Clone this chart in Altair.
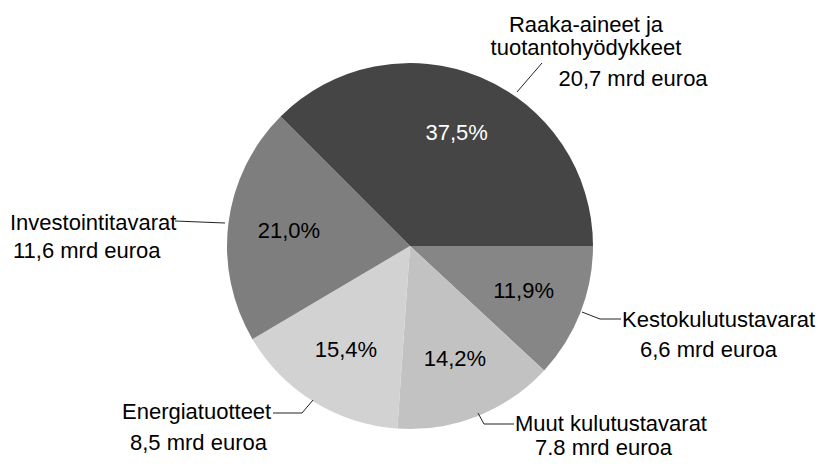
import math
import altair as alt
import pandas as pd

# ---- data ----
categories = ["Kestokulutustavarat", "Muut kulutustavarat", "Energiatuotteet",
              "Investointitavarat", "Raaka-aineet ja tuotantohyödykkeet"]
shares = [11.9, 14.2, 15.4, 21.0, 37.5]
value_labels = ["6,6 mrd euroa", "7.8 mrd euroa", "8,5 mrd euroa",
                "11,6 mrd euroa", "20,7 mrd euroa"]
name_lines = [["Kestokulutustavarat"], ["Muut kulutustavarat"], ["Energiatuotteet"],
              ["Investointitavarat"], ["Raaka-aineet ja", "tuotantohyödykkeet"]]

# ---- styles / layout ----
FONT = "Liberation Sans"
M = 8  # page margin
fills = ["#868686", "#c2c2c2", "#d2d2d2", "#7e7e7e", "#454545"]
pct_colors = ["black", "black", "black", "black", "white"]
CX, CY, R = 410 - M, 246 - M, 183

pie_df = pd.DataFrame({
    "cat": categories,
    "share": shares,
    "ord": list(range(len(categories))),
    "pct": [f"{v:.1f}".replace(".", ",") + "%" for v in shares],
    "tcol": pct_colors,
})

theta = alt.Theta("share:Q", stack=True,
                  scale=alt.Scale(range=[math.pi / 2, math.pi / 2 + 2 * math.pi]))

arcs = alt.Chart(pie_df).mark_arc(radius=R, strokeWidth=0).encode(
    theta=theta,
    order=alt.Order("ord:Q"),
    color=alt.Color("cat:N", scale=alt.Scale(domain=categories, range=fills), legend=None),
    x=alt.value(CX), y=alt.value(CY),
)

pct_text = alt.Chart(pie_df).mark_text(radius=122, font=FONT, fontSize=22,
                                       align="center", baseline="middle").encode(
    theta=theta,
    order=alt.Order("ord:Q"),
    text="pct:N",
    color=alt.Color("tcol:N", scale=None),
    x=alt.value(CX), y=alt.value(CY),
)

# outside label placement (page px): (x, baseline y, align) per line
label_pos = {
    "Kestokulutustavarat": [(622, 327, "left"), (640, 357, "left")],
    "Muut kulutustavarat": [(515, 431, "left"), (535, 455, "left")],
    "Energiatuotteet": [(122, 419, "left"), (130, 450, "left")],
    "Investointitavarat": [(10, 230, "left"), (13, 258, "left")],
    "Raaka-aineet ja tuotantohyödykkeet": [(586, 32, "center"), (586, 55, "center"),
                                           (633, 86, "center")],
}
rows = []
for cat, names, val in zip(categories, name_lines, value_labels):
    lines = names + [val]
    for (px, py, al), t in zip(label_pos[cat], lines):
        rows.append({"t": t, "x": px - M, "y": py - M, "al": al})
lab_df = pd.DataFrame(rows)

def label_layer(al):
    return alt.Chart(lab_df[lab_df["al"] == al]).mark_text(
        font=FONT, fontSize=22, align=al, baseline="alphabetic", color="black"
    ).encode(
        x=alt.X("x:Q", scale=None), y=alt.Y("y:Q", scale=None), text="t:N"
    )

# leader lines (page px)
leaders = {
    "Raaka": [(542, 63), (517, 92)],
    "Kesto": [(582, 312), (600, 319), (621, 319)],
    "Muut": [(478, 413), (484, 424), (514, 424)],
    "Energia": [(273, 413), (302, 413), (313, 400)],
    "Invest": [(175, 221), (200, 222), (225, 223)],
}
lrows = []
for k, pts in leaders.items():
    for i, (px, py) in enumerate(pts):
        lrows.append({"id": k, "i": i, "x": px - M, "y": py - M})
lead_df = pd.DataFrame(lrows)
lead = alt.Chart(lead_df).mark_line(color="#222222", strokeWidth=1).encode(
    x=alt.X("x:Q", scale=None), y=alt.Y("y:Q", scale=None),
    detail="id:N", order="i:Q",
)

chart = alt.layer(arcs, pct_text, lead, label_layer("left"), label_layer("center")).properties(
    width=812, height=452, padding=0, autosize=alt.AutoSizeParams(type="none"),
    background="white",
).configure_view(stroke=None)

chart.save("out.html", embed_options={"renderer": "svg", "actions": False})
